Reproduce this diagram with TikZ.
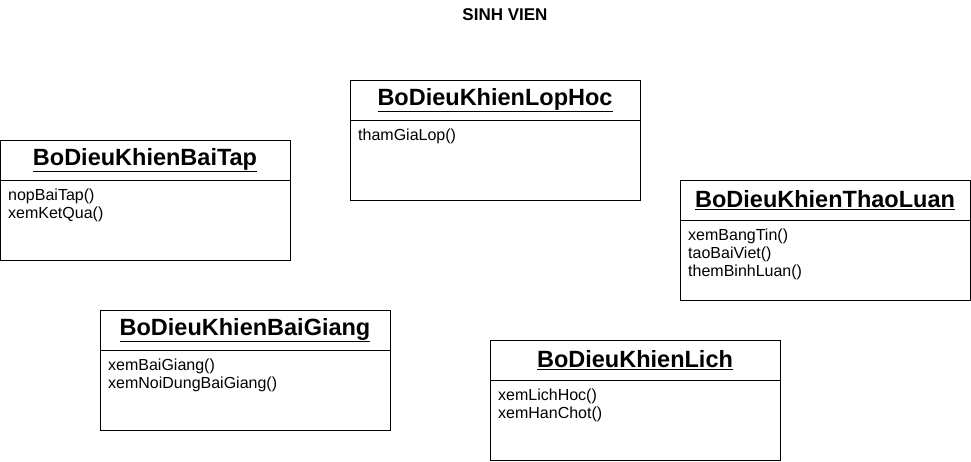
\documentclass[tikz,border=0pt]{standalone}
\usepackage{fontspec}
\setmainfont{Liberation Sans}
\usetikzlibrary{positioning}

% one controller class: name, centre of header, title, operations
\newcommand{\ctrlclass}[4]{%
	\node[classhead] (#1) at (#2) {\underline{#3}};
	\node[classbody, below=0pt of #1] (#1-body) {};
	\node[classops] (#1-ops) at ([xshift=8pt, yshift=-9pt]#1-body.north west) {#4};
}

\begin{document}
\begin{tikzpicture}[
		x=1pt, y=-1pt,
		classhead/.style={draw, line width=1pt, minimum width=290pt, minimum height=40pt, inner sep=0pt, outer sep=0pt, font=\fontsize{23.5}{26}\selectfont\bfseries},
		classbody/.style={draw, line width=1pt, minimum width=290pt, minimum height=80pt, inner sep=0pt, outer sep=0pt},
		classops/.style={anchor=north west, align=left, inner sep=0pt, font=\fontsize{16}{18}\selectfont},
		heading/.style={font=\fontsize{17}{20}\selectfont\bfseries}
		]
		
		\useasboundingbox (0,0) rectangle (971,461);
		
		% Title
		\node[heading] (title) at (505,15) {SINH VIEN};
		
		% Controller classes
		\ctrlclass{lophoc}{495,100}{BoDieuKhienLopHoc}{thamGiaLop()}
		\ctrlclass{baitap}{145,160}{BoDieuKhienBaiTap}{nopBaiTap()\\xemKetQua()}
		\ctrlclass{thaoluan}{825,200}{BoDieuKhienThaoLuan}{xemBangTin()\\taoBaiViet()\\themBinhLuan()}
		\ctrlclass{baigiang}{245,330}{BoDieuKhienBaiGiang}{xemBaiGiang()\\xemNoiDungBaiGiang()}
		\ctrlclass{lich}{635,360}{BoDieuKhienLich}{xemLichHoc()\\xemHanChot()}
		
	\end{tikzpicture}
\end{document}
